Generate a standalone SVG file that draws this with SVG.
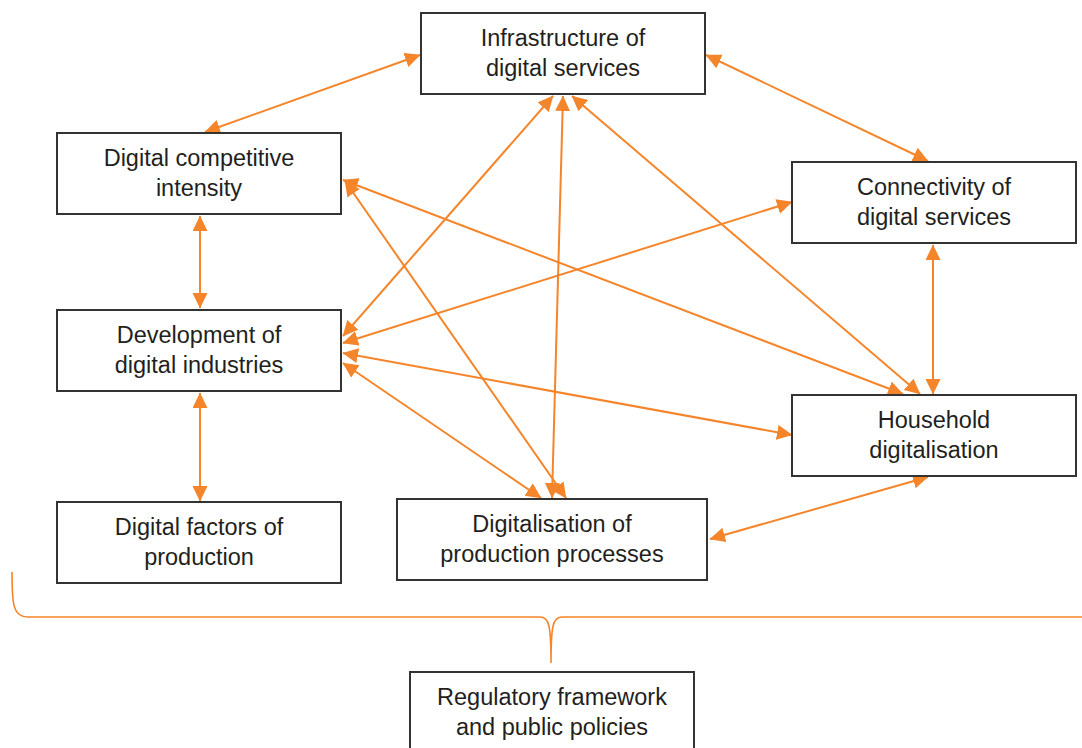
<svg xmlns="http://www.w3.org/2000/svg" width="1082" height="748" viewBox="0 0 1082 748">
<style>
.box{fill:#fff;stroke:#333;stroke-width:2}
.t{font-family:"Liberation Sans",Arial,sans-serif;font-size:23.5px;fill:#231f20;text-anchor:middle}
.c{stroke:#F5852A;stroke-width:2;fill:none;marker-start:url(#ah);marker-end:url(#ah)}
.brace{stroke:#F5852A;stroke-width:1.6;fill:none}
</style>
<defs>
<marker id="ah" markerUnits="userSpaceOnUse" markerWidth="17" markerHeight="17" refX="15" refY="7.5" orient="auto-start-reverse">
<path d="M0,0 L15.5,7.5 L0,15 z" fill="#F5852A"/>
</marker>
</defs>
<rect width="1082" height="748" fill="#fff"/>
<g id="connectors">
<line class="c" x1="420" y1="55" x2="205" y2="132"/>
<line class="c" x1="706" y1="55" x2="928" y2="161"/>
<line class="c" x1="200" y1="216" x2="200" y2="308"/>
<line class="c" x1="200" y1="393" x2="200" y2="501"/>
<line class="c" x1="933" y1="245" x2="933" y2="394"/>
<line class="c" x1="553" y1="96" x2="343" y2="336"/>
<line class="c" x1="563" y1="96" x2="552" y2="498"/>
<line class="c" x1="572" y1="96" x2="920" y2="394"/>
<line class="c" x1="343" y1="180" x2="903" y2="394"/>
<line class="c" x1="345" y1="181" x2="566" y2="498"/>
<line class="c" x1="343" y1="343" x2="792" y2="202"/>
<line class="c" x1="343" y1="353" x2="792" y2="435"/>
<line class="c" x1="343" y1="363" x2="541" y2="498"/>
<line class="c" x1="710" y1="539" x2="928" y2="477"/>
<path class="brace" d="M12,572 C12,605 13,617 28,617 L540,617 C549,617 551,625 551,663 C551,625 553,617 562,617 L1082,617"/>
</g>
<g id="infrastructure">
<rect class="box" x="421" y="13" width="284" height="81"/>
<text class="t" x="563" y="46">Infrastructure of</text>
<text class="t" x="563" y="76">digital services</text>
</g>
<g id="competitive">
<rect class="box" x="57" y="133" width="284" height="81"/>
<text class="t" x="199" y="166">Digital competitive</text>
<text class="t" x="199" y="196">intensity</text>
</g>
<g id="connectivity">
<rect class="box" x="792" y="162" width="284" height="81"/>
<text class="t" x="934" y="195">Connectivity of</text>
<text class="t" x="934" y="225">digital services</text>
</g>
<g id="development">
<rect class="box" x="57" y="310" width="284" height="81"/>
<text class="t" x="199" y="343">Development of</text>
<text class="t" x="199" y="373">digital industries</text>
</g>
<g id="household">
<rect class="box" x="792" y="395" width="284" height="81"/>
<text class="t" x="934" y="428">Household</text>
<text class="t" x="934" y="458">digitalisation</text>
</g>
<g id="factors">
<rect class="box" x="57" y="502" width="284" height="81"/>
<text class="t" x="199" y="535">Digital factors of</text>
<text class="t" x="199" y="565">production</text>
</g>
<g id="processes">
<rect class="box" x="397" y="499" width="310" height="81"/>
<text class="t" x="552" y="532">Digitalisation of</text>
<text class="t" x="552" y="562">production processes</text>
</g>
<g id="regulatory">
<rect class="box" x="410" y="672" width="284" height="81"/>
<text class="t" x="552" y="705">Regulatory framework</text>
<text class="t" x="552" y="735">and public policies</text>
</g>
</svg>
